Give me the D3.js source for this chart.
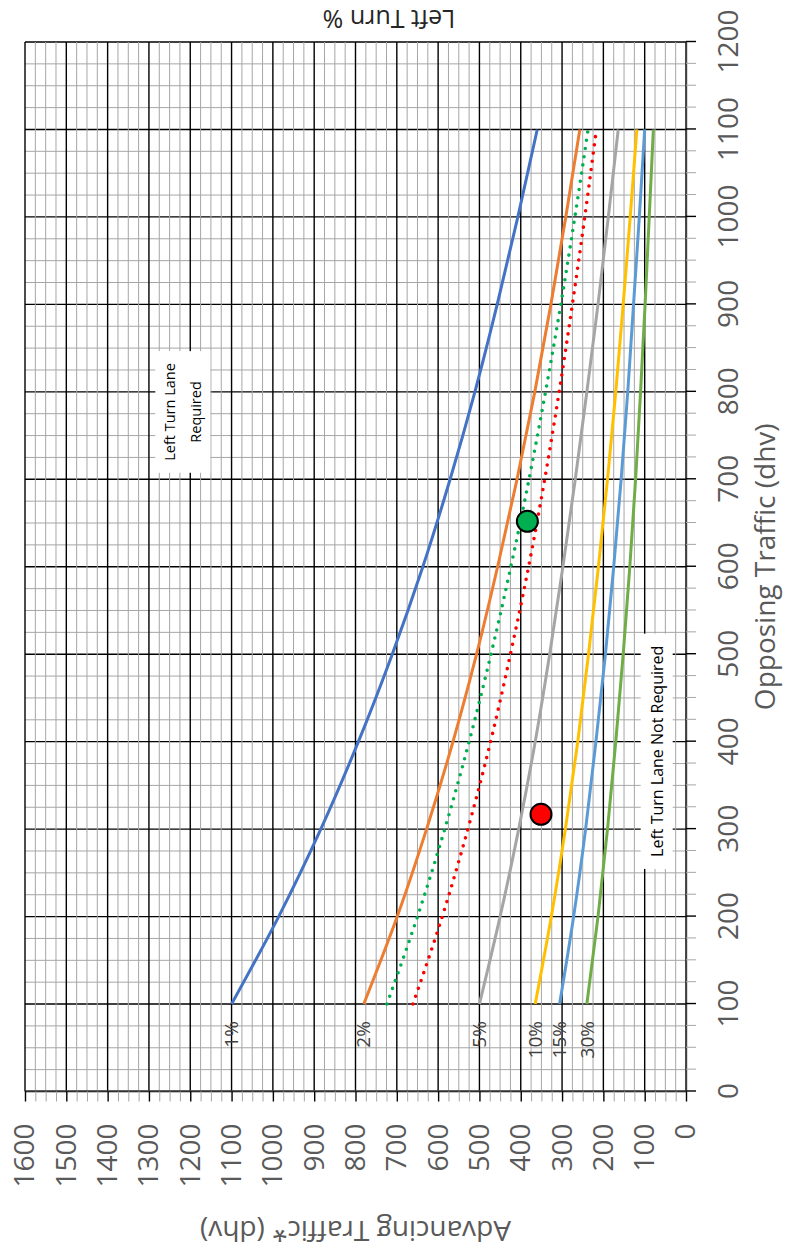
<!DOCTYPE html>
<html>
<head>
<meta charset="utf-8">
<script src="https://cdn.jsdelivr.net/npm/d3@7"></script>
<style>
  body { margin: 0; background: #fff; }
  text { font-family: "Open Sans", sans-serif; }
</style>
</head>
<body>
<script>
// opposing traffic (dhv) at which each curve is read
var opposing = [100, 200, 300, 400, 500, 600, 700, 800, 900, 1000, 1100];

// advancing traffic (dhv) per left turn %
var pct1  = [1100, 986, 884, 793, 711, 637, 571, 511, 457, 407, 360];
var pct2  = [780, 699, 628, 564, 507, 456, 409, 366, 327, 291, 257];
var pct5  = [500, 450, 405, 365, 330, 298, 268, 240, 213, 188, 164];
var pct10 = [365, 326, 292, 262, 236, 212, 190, 170, 152, 135, 119];
var pct15 = [306, 272, 243, 218, 195, 175, 157, 141, 127, 113, 100];
var pct30 = [240, 213, 190, 170, 152, 136, 122, 110, 99, 89, 79];

// dotted interpolated curves
var greenDotted = [724, 650, 584, 525, 472, 424, 380, 340, 303, 269, 237];
var redDotted   = [661, 590, 528, 473, 425, 381, 342, 307, 275, 245, 217];

// plotted points
var pointOpposing  = [652, 317];
var pointAdvancing = [384, 351];
var pointColors    = ["#00B050", "#FF0000"];

// axis tick labels
var opposingTicks  = [0, 100, 200, 300, 400, 500, 600, 700, 800, 900, 1000, 1100, 1200];
var advancingTicks = [0, 100, 200, 300, 400, 500, 600, 700, 800, 900, 1000, 1100, 1200, 1300, 1400, 1500, 1600];

var series = [
  {label: "1%",  values: pct1,  color: "#4472C4", dotted: false},
  {label: "2%",  values: pct2,  color: "#ED7D31", dotted: false},
  {label: "",    values: greenDotted, color: "#00B050", dotted: true},
  {label: "",    values: redDotted,   color: "#FF0000", dotted: true},
  {label: "5%",  values: pct5,  color: "#A5A5A5", dotted: false},
  {label: "10%", values: pct10, color: "#FFC000", dotted: false},
  {label: "15%", values: pct15, color: "#5B9BD5", dotted: false},
  {label: "30%", values: pct30, color: "#70AD47", dotted: false}
];

var W = 1049.5, H = 661;

var svg = d3.select("body").append("svg")
    .attr("width", 785)
    .attr("height", 1249);

/* the whole chart is drawn unrotated, then turned 90 degrees */
var g = svg.append("g")
    .attr("transform", "translate(25,1091.5) rotate(-90)");

var x = d3.scaleLinear().domain([0, 1200]).range([0, W]),
    y = d3.scaleLinear().domain([0, 1600]).range([H, 0]);

var xMinor = d3.range(0, 1201, 25),
    yMinor = d3.range(0, 1601, 25);

function isMajor(d) { return d % 100 === 0; }

// grid, minor first then major on top
var grid = g.append("g").attr("class", "grid");
grid.selectAll("line.gx")
    .data(xMinor.filter(function(d) { return !isMajor(d); }).concat(opposingTicks))
  .enter().append("line")
    .attr("x1", function(d) { return x(d); })
    .attr("x2", function(d) { return x(d); })
    .attr("y1", 0)
    .attr("y2", H)
    .attr("stroke", function(d) { return isMajor(d) ? "#000" : "#a6a6a6"; })
    .attr("stroke-width", function(d) { return isMajor(d) ? 1.4 : 1; });
grid.selectAll("line.gy")
    .data(yMinor.filter(function(d) { return !isMajor(d); }).concat(advancingTicks))
  .enter().append("line")
    .attr("x1", 0)
    .attr("x2", W)
    .attr("y1", function(d) { return y(d); })
    .attr("y2", function(d) { return y(d); })
    .attr("stroke", function(d) { return isMajor(d) ? "#000" : "#a6a6a6"; })
    .attr("stroke-width", function(d) { return isMajor(d) ? 1.4 : 1; });

// axes
var xAxis = d3.axisBottom(x)
    .tickValues(xMinor)
    .tickSize(10)
    .tickSizeOuter(0)
    .tickPadding(22)
    .tickFormat(function(d) { return isMajor(d) ? d : ""; });

var yAxis = d3.axisLeft(y)
    .tickValues(yMinor)
    .tickSize(10)
    .tickSizeOuter(0)
    .tickPadding(22)
    .tickFormat(function(d) { return isMajor(d) ? d : ""; });

var gX = g.append("g")
    .attr("class", "axis axis--x")
    .attr("transform", "translate(0," + H + ")")
    .call(xAxis);

var gY = g.append("g")
    .attr("class", "axis axis--y")
    .call(yAxis);

[gX, gY].forEach(function(ax) {
  ax.attr("font-family", "'Open Sans', sans-serif").attr("font-size", 28);
  ax.select(".domain").attr("stroke", "#404040").attr("stroke-width", 1.4);
  ax.selectAll(".tick line")
    .attr("stroke", function(d) { return isMajor(d) ? "#000" : "#a6a6a6"; })
    .attr("stroke-width", function(d) { return isMajor(d) ? 1.4 : 1; });
  ax.selectAll(".tick text").attr("fill", "#595959");
});

// axis titles
g.append("text")
    .attr("x", W / 2)
    .attr("y", 750)
    .attr("text-anchor", "middle")
    .attr("font-size", 28)
    .attr("fill", "#595959")
    .text("Opposing Traffic (dhv)");

g.append("text")
    .attr("transform", "translate(-129,"  + (H / 2) + ") rotate(-90)")
    .attr("text-anchor", "middle")
    .attr("font-size", 28)
    .attr("fill", "#595959")
    .text("Advancing Traffic* (dhv)");

g.append("text")
    .attr("transform", "translate(1082,364) rotate(-90)")
    .attr("text-anchor", "middle")
    .attr("font-size", 25)
    .attr("fill", "#262626")
    .text("Left Turn %");

// curves
var line = d3.line()
    .x(function(d) { return x(d[0]); })
    .y(function(d) { return y(d[1]); })
    .curve(d3.curveMonotoneX);

series.forEach(function(s) {
  var pts = opposing.map(function(o, i) { return [o, s.values[i]]; });
  var p = g.append("path").datum(pts)
      .attr("class", "line")
      .attr("fill", "none")
      .attr("stroke", s.color)
      .attr("d", line);
  if (s.dotted) {
    p.attr("stroke-width", 3.6)
     .attr("stroke-linecap", "round")
     .attr("stroke-dasharray", "0 8.3");
  } else {
    p.attr("stroke-width", 3);
  }
  if (s.label) {
    g.append("text")
        .attr("x", x(opposing[0]) - 17)
        .attr("y", y(s.values[0]))
        .attr("dy", "0.35em")
        .attr("text-anchor", "end")
        .attr("font-size", 19)
        .attr("fill", "#404040")
        .text(s.label);
  }
});

// annotation boxes
function addNote(lines, o, a, size) {
  var ng = g.append("g");
  var rect = ng.append("rect").attr("fill", "#fff");
  var t = ng.append("text")
      .attr("text-anchor", "middle")
      .attr("font-size", size)
      .attr("fill", "#000");
  lines.forEach(function(s, i) {
    t.append("tspan")
      .attr("x", x(o))
      .attr("y", y(a) + (i - (lines.length - 1) / 2) * 26)
      .attr("dy", "0.35em")
      .text(s);
  });
  var b = t.node().getBBox();
  rect.attr("x", b.x - 12).attr("y", b.y - 5)
      .attr("width", b.width + 24).attr("height", b.height + 10);
}
addNote(["Left Turn Lane", "Required"], 777, 1217, 14.5);
addNote(["Left Turn Lane Not Required"], 389, 70, 16);

// points
g.selectAll("circle.pt")
    .data(pointOpposing)
  .enter().append("circle")
    .attr("class", "pt")
    .attr("cx", function(d) { return x(d); })
    .attr("cy", function(d, i) { return y(pointAdvancing[i]); })
    .attr("r", 10.5)
    .attr("fill", function(d, i) { return pointColors[i]; })
    .attr("stroke", "#000")
    .attr("stroke-width", 2);
</script>
</body>
</html>
